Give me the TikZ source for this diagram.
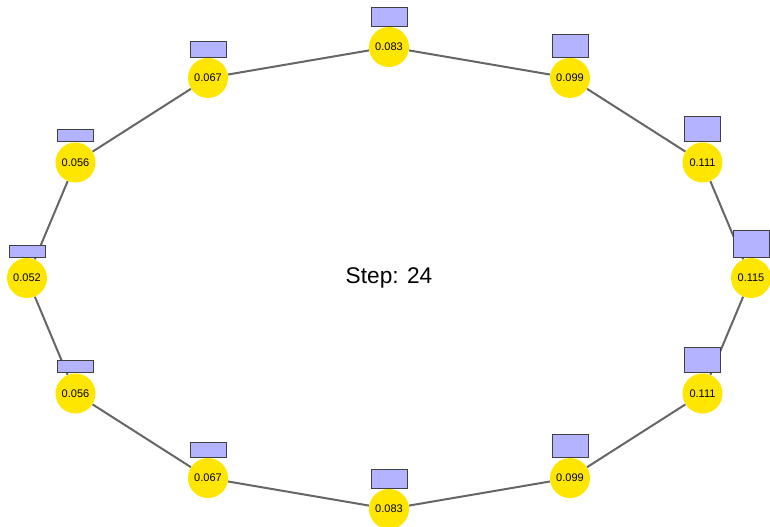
\documentclass[tikz,border=0pt]{standalone}
\usepackage{fontspec}
\setmainfont{Liberation Sans}
\usepackage{tikz}
\usetikzlibrary{backgrounds}
\definecolor{ballyellow}{RGB}{255,230,0}
\definecolor{barblue}{RGB}{179,179,255}
\definecolor{ringgray}{RGB}{102,102,102}
\tikzset{
  ball/.style={circle, fill=ballyellow, minimum size=30pt, inner sep=0pt, font=\fontsize{8.25}{9}\selectfont},
  bar/.style={draw=black!75, fill=barblue, minimum width=27pt, inner sep=0pt, line width=0.6pt},
  ring/.style={ringgray, line width=1.5pt}
}

\begin{document}
\begin{tikzpicture}[x=0.75pt, y=-0.75pt]
  \useasboundingbox (0,0) rectangle (770,527);
  \foreach \v [count=\i] in {0.083,0.099,0.111,0.115,0.111,0.099,0.083,0.067,0.056,0.052,0.056,0.067}{
    \pgfmathsetmacro{\ang}{90-30*(\i-1)}
    \pgfmathsetmacro{\hgt}{172.5*\v}
    \node[ball] (v\i) at ({389+362*cos(\ang)},{278-231*sin(\ang)}) {\v};
    \node[bar, minimum height=\hgt pt, anchor=south] (b\i) at (v\i.north) {};
  }
  % ring behind the bars
  \begin{scope}[on background layer]
    \foreach \i in {1,...,12}{
      \pgfmathtruncatemacro{\j}{mod(\i,12)+1}
      \draw[ring] (v\i) -- (v\j);
    }
  \end{scope}
  \node[font=\fontsize{17}{20}\selectfont] (step) at (389,278) {Step: 24};
\end{tikzpicture}
\end{document}
